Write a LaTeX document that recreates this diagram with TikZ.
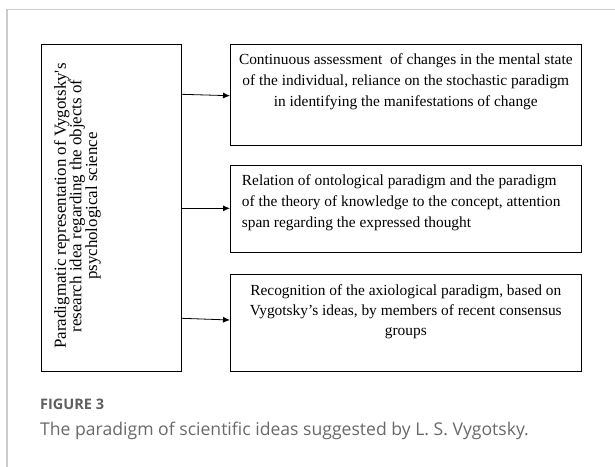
\documentclass[tikz,border=0pt]{standalone}
\usepackage{fontspec}
\setmainfont{Liberation Serif}
\newfontfamily\capfont{Open Sans}
\usetikzlibrary{arrows.meta}
\definecolor{framegray}{RGB}{204,204,204}
\definecolor{figgray}{RGB}{95,95,95}
\definecolor{capgray}{RGB}{105,105,105}
\begin{document}
\begin{tikzpicture}[x=1pt,y=-1pt,
  boxstyle/.style={draw=black, line width=0.9pt, inner sep=0pt},
  txt/.style={inner sep=0pt, font=\fontsize{15.4}{20.8}\selectfont},
  conn/.style={draw=black, line width=0.8pt, -{Latex[length=7pt,width=6pt]}}]
\useasboundingbox (0,0) rectangle (615,466);
% outer frame
\draw[draw=framegray, line width=1.6pt] (640,9.5) -- (7,9.5) -- (7,480);
% boxes
\draw[boxstyle] (41.7,44.3) rectangle (181.7,371.7);
\coordinate (Lr1) at (181.7,94.3);
\coordinate (Lr2) at (181.7,208.3);
\coordinate (Lr3) at (181.7,318.3);
\draw[boxstyle] (230,44.3) rectangle (581.7,145);
\draw[boxstyle] (230,165.7) rectangle (581.7,252.7);
\draw[boxstyle] (230,274.3) rectangle (581.7,371);
\coordinate (R1) at (230,95.7);
\coordinate (R2) at (230,208.3);
\coordinate (R3) at (230,320);
% texts
\node[inner sep=0pt, rotate=90, align=center, font=\fontsize{16.9}{15.6}\selectfont] (Ltext) at (77.3,206)
  {Paradigmatic representation of Vygotsky\textquotesingle s\\research idea regarding the objects of\\psychological science};
\node[txt, align=center] (T1) at (405.8,81.6)
  {Continuous assessment \ of changes in the mental state\\of the individual, reliance on the stochastic paradigm\\in identifying the manifestations of change};
\node[txt, align=left, anchor=west] (T2) at (241.7,202.6)
  {Relation of ontological paradigm and the paradigm\\of the theory of knowledge to the concept, attention\\span regarding the expressed thought};
\node[txt, align=center, font=\fontsize{15.4}{20}\selectfont] (T3) at (405.8,311.4)
  {Recognition of the axiological paradigm, based on\\Vygotsky’s ideas, by members of recent consensus\\groups};
% connectors
\draw[conn] (Lr1) -- (R1);
\draw[conn] (Lr2) -- (R2);
\draw[conn] (Lr3) -- (R3);
% caption
\node[anchor=base west, inner sep=0pt, text=figgray, font=\capfont\bfseries\fontsize{14.5}{16}\selectfont] (fig) at (40,409) {FIGURE 3};
\node[anchor=base west, inner sep=0pt, text=capgray, font=\capfont\fontsize{17.6}{20}\selectfont] (cap) at (40,435) {The paradigm of scientific ideas suggested by L. S. Vygotsky.};
\end{tikzpicture}
\end{document}
